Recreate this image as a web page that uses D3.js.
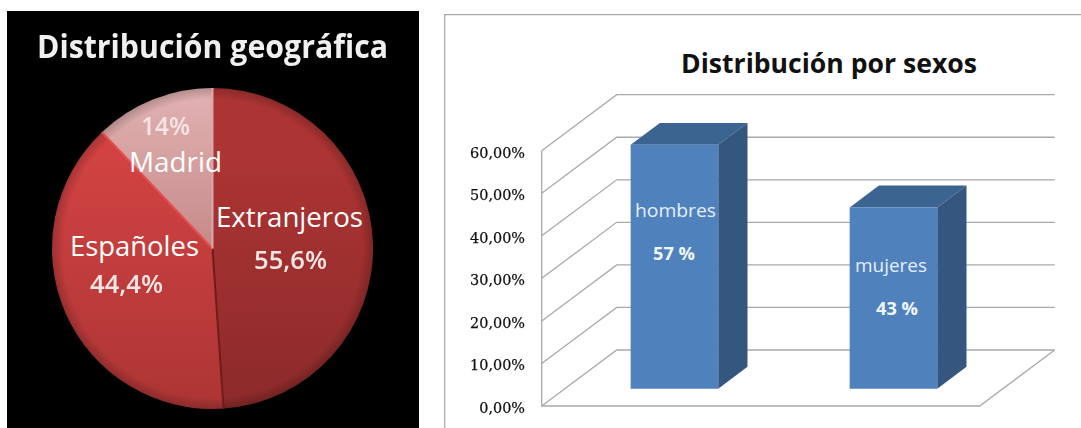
<!DOCTYPE html>
<html>
<head>
<meta charset="utf-8">
<script src="https://cdn.jsdelivr.net/npm/d3@7"></script>
<style>
    html, body { margin: 0; padding: 0; background: #fff; overflow: hidden; }
    text { font-family: "Open Sans", sans-serif; }
</style>
</head>
<body>
<div id="chart"></div>
<script>
const geoCategories = ['Extranjeros', 'Españoles', 'Madrid'];
const geoSlices = [48.9, 39.0, 12.1];
const geoLabels = ['55,6%', '44,4%', '14%'];

// Right panel: 3D column chart
const sexCategories = ['hombres', 'mujeres'];
const sexValues = [57.3, 42.6];
const sexLabels = ['57 %', '43 %'];
const yTicks = [0, 10, 20, 30, 40, 50, 60];

const width = 1081, height = 428;
const svg = d3.select('#chart').append('svg')
    .attr('width', width)
    .attr('height', height)
    .style('display', 'block');
const defs = svg.append('defs');

// fitted text, the original face (Calibri) is not installed
function label(g, str, x, y, size, width, color, weight) {
    return g.append('text')
        .attr('x', x).attr('y', y)
        .attr('font-size', size)
        .attr('font-weight', weight || 400)
        .attr('textLength', width)
        .attr('lengthAdjust', 'spacingAndGlyphs')
        .attr('fill', color)
        .text(str);
}

defs.append('filter').attr('id', 'soft')
    .append('feGaussianBlur').attr('stdDeviation', 0.45);

// ---------------------------------------------------------------- pie
const left = svg.append('g');
left.append('rect')
    .attr('x', 7).attr('y', 11)
    .attr('width', 412).attr('height', 417)
    .attr('fill', '#000');

label(left, 'Distribución geográfica', 37, 58, 32, 351, '#f0f0f0', 700).attr('filter', 'url(#soft)');

const pieCx = 212.5, pieCy = 248.5, pieR = 160.5;
const pieColors = [
    ['#ad3434', '#8c2a2a'],
    ['#d24242', '#ad3535'],
    ['#e2b2b2', '#c58a8a']
];
const pieEdges = ['#6e1c1c', '#e84c4c', '#d9a8a8'];

pieColors.forEach((c, i) => {
    const grad = defs.append('linearGradient')
        .attr('id', `slice${i}`)
        .attr('gradientUnits', 'userSpaceOnUse')
        .attr('x1', 0).attr('x2', 0)
        .attr('y1', i === 2 ? -pieR : -pieR * 0.6)
        .attr('y2', i === 2 ? 0 : pieR);
    grad.append('stop').attr('offset', 0).attr('stop-color', c[0]);
    grad.append('stop').attr('offset', 1).attr('stop-color', c[1]);
});

const rim = defs.append('radialGradient')
    .attr('id', 'rim')
    .attr('gradientUnits', 'userSpaceOnUse')
    .attr('cx', 0).attr('cy', 0).attr('r', pieR);
rim.append('stop').attr('offset', 0.93).attr('stop-color', '#000').attr('stop-opacity', 0);
rim.append('stop').attr('offset', 1).attr('stop-color', '#000').attr('stop-opacity', 0.2);

const pie = d3.pie().sort(null)(geoSlices);
const arc = d3.arc().innerRadius(0).outerRadius(pieR);
const pieG = left.append('g').attr('transform', `translate(${pieCx},${pieCy})`);

pieG.selectAll('path.slice')
    .data(pie)
    .join('path')
    .attr('class', 'slice')
    .attr('d', arc)
    .attr('fill', (d, i) => `url(#slice${i})`);

pieG.append('circle').attr('r', pieR).attr('fill', 'url(#rim)');

// bevel along the straight edge where each slice ends
pieG.selectAll('line.edge')
    .data(pie)
    .join('line')
    .attr('class', 'edge')
    .attr('x2', d => d3.pointRadial(d.endAngle, pieR)[0])
    .attr('y2', d => d3.pointRadial(d.endAngle, pieR)[1])
    .attr('stroke', (d, i) => pieEdges[i])
    .attr('stroke-width', 2);

// slice captions, [x, y, size, width] for name then value
const geoNamePos = [[216, 227, 28, 147], [70, 256, 28, 129], [129, 172, 28, 93]];
const geoValuePos = [[254, 269, 25, 73], [90, 293, 25, 73], [141, 135, 25, 49]];
geoCategories.forEach((name, i) => {
    const [x, y, s, w] = geoNamePos[i];
    label(left, name, x, y, s, w, '#fff');
    const [vx, vy, vs, vw] = geoValuePos[i];
    label(left, geoLabels[i], vx, vy, vs, vw, '#f5e6e6', 600).attr('filter', 'url(#soft)');
});

// ---------------------------------------------------------------- columns
const right = svg.append('g');
right.append('path')
    .attr('d', 'M444.7,428V14.7H1081')
    .attr('fill', 'none')
    .attr('stroke', '#a8a8a8')
    .attr('stroke-width', 1.2);

label(right, 'Distribución por sexos', 681, 73, 26, 296, '#111', 700);

const plotX = 541.7, plotW = 438;
const depthX = 75, depthY = -56;
const y = d3.scaleLinear().domain([0, 60]).range([406, 150.7]);
const x = d3.scaleBand().domain(sexCategories).range([0, plotW])
    .paddingInner(0.6).paddingOuter(0.3);

// position along the depth axis: 0 front edge of the floor, 1 back wall
const project = (px, val, depth) => [plotX + px + depthX * depth, y(val) + depthY * depth];
const line = d3.line();
const gridColor = '#a9a9a9';

const grid = right.append('g').attr('fill', 'none').attr('stroke', gridColor).attr('stroke-width', 1.3);
yTicks.forEach(t => {
    grid.append('path').attr('d', line([project(0, t, 0), project(0, t, 1), project(plotW, t, 1)]));
});
grid.append('path').attr('d', line([project(0, 60, 0), project(0, 0, 0), project(plotW, 0, 0), project(plotW, 0, 1)]));

const yAxis = d3.axisLeft(y)
    .tickValues(yTicks)
    .tickSize(0)
    .tickPadding(0)
    .tickFormat(d => d3.format('.2f')(d).replace('.', ',') + '%');
const axisG = right.append('g')
    .attr('transform', `translate(525,1.5)`)
    .call(yAxis);
axisG.select('.domain').remove();
axisG.selectAll('text')
    .attr('font-size', 15.5)
    .attr('fill', '#111')
    .style('font-family', '"DejaVu Serif", serif')
    .attr('stroke', '#111')
    .attr('stroke-width', 0.25)
    .attr('filter', 'url(#soft)')
    .each(function () {
        const w = this.textContent.length * 9.15;
        d3.select(this).attr('textLength', w).attr('lengthAdjust', 'spacingAndGlyphs');
    });

const barFront = 0.31, barBack = 0.70;
sexCategories.forEach((cat, i) => {
    const x0 = x(cat), x1 = x0 + x.bandwidth(), v = sexValues[i];
    const g = right.append('g');
    g.append('path').attr('fill', '#3c6491')
        .attr('d', line([project(x0, v, barFront), project(x1, v, barFront), project(x1, v, barBack), project(x0, v, barBack)]) + 'Z');
    g.append('path').attr('fill', '#34567f')
        .attr('d', line([project(x1, 0, barFront), project(x1, v, barFront), project(x1, v, barBack), project(x1, 0, barBack)]) + 'Z');
    g.append('path').attr('fill', '#4f81bd')
        .attr('d', line([project(x0, 0, barFront), project(x1, 0, barFront), project(x1, v, barFront), project(x0, v, barFront)]) + 'Z');
});

// column captions, [x, y, width] for name then value
const sexNamePos = [[635, 216.5, 81], [855, 271.5, 72]];
const sexValuePos = [[653, 260, 42], [876, 315, 42]];
sexCategories.forEach((cat, i) => {
    const [nx, ny, nw] = sexNamePos[i];
    label(right, cat, nx, ny, 18.5, nw, '#e6eef8');
    const [vx, vy, vw] = sexValuePos[i];
    label(right, sexLabels[i], vx, vy, 18, vw, '#f2f6fb', 700);
});
</script>
</body>
</html>
